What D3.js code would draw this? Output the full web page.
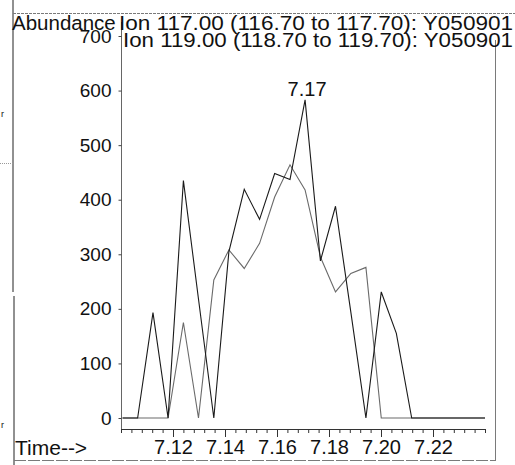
<!DOCTYPE html>
<html>
<head>
<meta charset="utf-8">
<script src="https://cdn.jsdelivr.net/npm/d3@7"></script>
<style>
  html, body { margin: 0; padding: 0; background: #fff; }
  svg { display: block; }
  text { font-family: "Liberation Sans", Arial, sans-serif; fill: #111; }
</style>
</head>
<body>
<script>
// ---- data ----
const times = [7.1006, 7.1064, 7.1123, 7.1181, 7.1240, 7.1298, 7.1357, 7.1415, 7.1474,
               7.1533, 7.1591, 7.1650, 7.1708, 7.1767, 7.1825, 7.1884, 7.1942, 7.2001,
               7.2059, 7.2118, 7.2177, 7.2235, 7.2294, 7.2352, 7.2400];
const ion117 = [0, 0, 193, 0, 435, 218, 0, 305, 419, 364, 448, 437, 583, 288, 388, 194,
                0, 231, 155, 0, 0, 0, 0, 0, 0];
const ion119 = [0, 0, 0, 0, 175, 0, 253, 308, 274, 320, 405, 464, 418, 295, 231, 265,
                276, 0, 0, 0, 0, 0, 0, 0, 0];
const seriesNames = ["Ion 117.00 (116.70 to 117.70): Y050901", "Ion 119.00 (118.70 to 119.70): Y050901"];
const yTicks = [0, 100, 200, 300, 400, 500, 600, 700];
const xMajorTicks = [7.12, 7.14, 7.16, 7.18, 7.20, 7.22];
const xMinorTicks = d3.range(0, 36).map(i => +(7.10 + i * 0.004).toFixed(3));
const peakLabel = "7.17";
const yTitle = "Abundance";
const xTitle = "Time-->";

// ---- drawing ----
const W = 515, H = 465;
const svg = d3.select("body").append("svg").attr("width", W).attr("height", H);

const x = d3.scaleLinear().domain([7.10, 7.24]).range([121, 485]);
const y = d3.scaleLinear().domain([0, 700]).range([418, 36]);

const frame = "#7a7a7a";
// page frame / scan borders
svg.append("line").attr("x1", 13).attr("x2", 13).attr("y1", 0).attr("y2", 292).attr("stroke", "#222").attr("stroke-width", 1);
svg.append("line").attr("x1", 14).attr("x2", 14).attr("y1", 296).attr("y2", 465).attr("stroke", "#222").attr("stroke-width", 1);
svg.append("line").attr("x1", 13).attr("x2", 515).attr("y1", 13.5).attr("y2", 13.5).attr("stroke", frame).attr("stroke-width", 1).attr("stroke-dasharray", "3,1");
svg.append("line").attr("x1", 495.5).attr("x2", 495.5).attr("y1", 40).attr("y2", 460).attr("stroke", frame).attr("stroke-width", 1);
svg.append("line").attr("x1", 14).attr("x2", 496).attr("y1", 460.5).attr("y2", 460.5).attr("stroke", frame).attr("stroke-width", 1.2).attr("stroke-dasharray", "12,2");
svg.append("line").attr("x1", 0).attr("x2", 13).attr("y1", 163.5).attr("y2", 163.5).attr("stroke", "#999").attr("stroke-dasharray", "1,1");
svg.append("text").attr("x", 1).attr("y", 117).attr("font-size", 9).text("r");
svg.append("text").attr("x", 1).attr("y", 428).attr("font-size", 9).text("r");

// y axis
svg.append("line").attr("x1", 121.5).attr("x2", 121.5).attr("y1", 22).attr("y2", 429)
  .attr("stroke", "#666").attr("stroke-width", 1);
const yAxis = svg.append("g").attr("transform", "translate(121.5,0)")
  .call(d3.axisLeft(y).tickValues(yTicks).tickSize(3).tickPadding(7).tickFormat(d3.format("d")));
yAxis.select(".domain").remove();
yAxis.selectAll("line").attr("stroke", "#444");
yAxis.selectAll("text").attr("font-size", 19).attr("font-family", "Liberation Sans, Arial, sans-serif").attr("fill", "#111");

// x axis
const xAxisY = 429;
const xMinor = svg.append("g").attr("transform", `translate(0,${xAxisY})`)
  .call(d3.axisBottom(x).tickValues(xMinorTicks).tickSize(4).tickFormat(""));
xMinor.select(".domain").remove();
xMinor.selectAll("line").attr("stroke", "#333");
const xAxis = svg.append("g").attr("transform", `translate(0,${xAxisY})`)
  .call(d3.axisBottom(x).tickValues(xMajorTicks).tickSize(8).tickSizeOuter(0).tickPadding(3).tickFormat(d3.format(".2f")));
xAxis.select(".domain").attr("stroke", "#333");
xAxis.selectAll("line").attr("stroke", "#333");
xAxis.selectAll("text").attr("font-size", 20).attr("font-family", "Liberation Sans, Arial, sans-serif").attr("fill", "#111");

// clip for traces
svg.append("clipPath").attr("id", "plotclip").append("rect")
  .attr("x", 121).attr("y", 0).attr("width", 364).attr("height", 430);

const line = d3.line().x((d, i) => x(times[i])).y(d => y(d));
const g = svg.append("g").attr("clip-path", "url(#plotclip)");
g.append("path").datum(ion119).attr("d", line).attr("fill", "none")
  .attr("stroke", "#6a6a6a").attr("stroke-width", 1.1);
g.append("path").datum(ion117).attr("d", line).attr("fill", "none")
  .attr("stroke", "#1a1a1a").attr("stroke-width", 1.1);

// peak label
const peakIdx = ion117.indexOf(d3.max(ion117));
svg.append("text").attr("x", x(times[peakIdx]) + 2).attr("y", y(ion117[peakIdx]) - 4)
  .attr("text-anchor", "middle").attr("font-size", 20).text(peakLabel);

// titles
svg.append("text").attr("x", 12).attr("y", 30).attr("font-size", 20.5).text(yTitle);
svg.append("text").attr("x", 119).attr("y", 29.5).attr("font-size", 19.5)
  .attr("textLength", 394).attr("lengthAdjust", "spacingAndGlyphs").text(seriesNames[0]);
svg.append("text").attr("x", 123).attr("y", 46.5).attr("font-size", 19.5)
  .attr("textLength", 390).attr("lengthAdjust", "spacingAndGlyphs").text(seriesNames[1]);
svg.append("text").attr("x", 15).attr("y", 455).attr("font-size", 21).text(xTitle);
</script>
</body>
</html>
